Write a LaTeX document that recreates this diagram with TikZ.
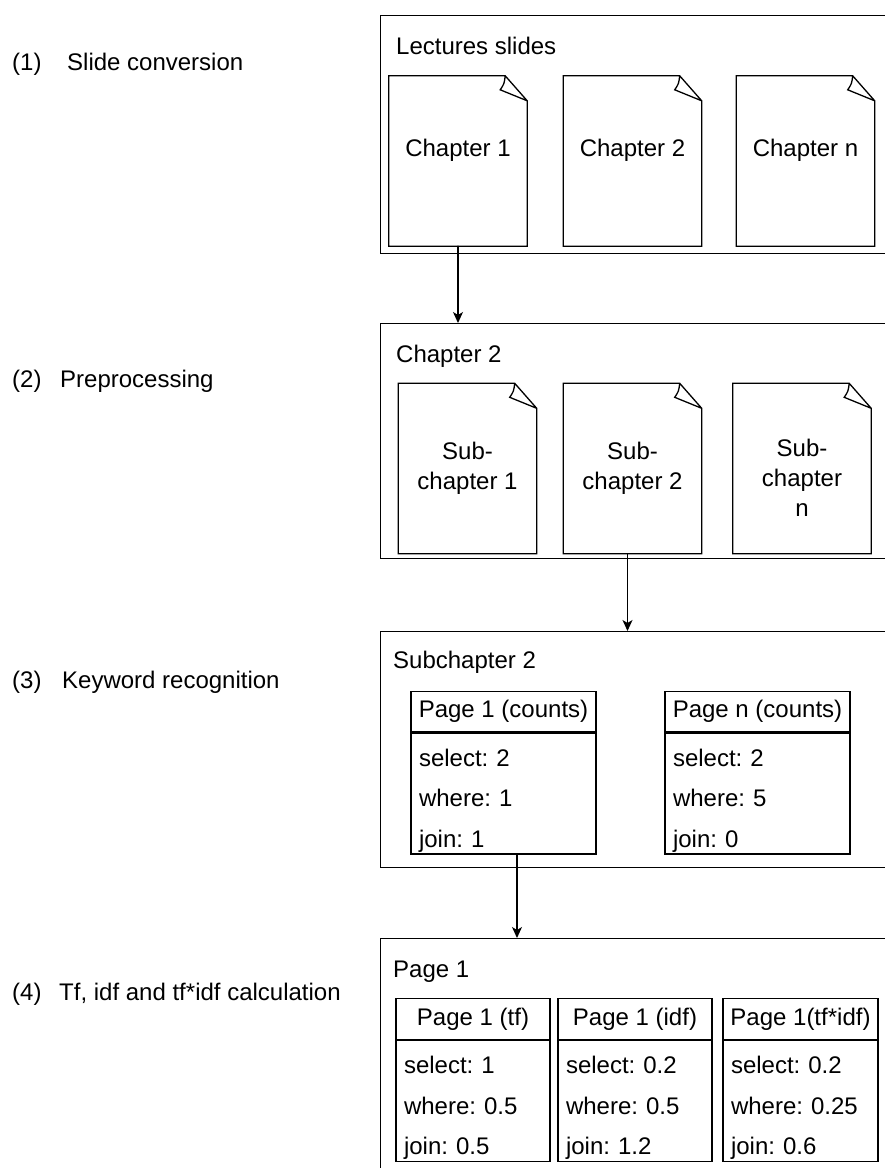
\documentclass[tikz,border=0pt]{standalone}
\usepackage{fontspec}
\setmainfont{Liberation Sans}
\usetikzlibrary{positioning,arrows.meta}
\frenchspacing

\begin{document}
\begin{tikzpicture}[x=1pt,y=-1pt,line cap=round,
  txt/.style={font=\fontsize{24}{30}\selectfont, inner sep=0pt},
  stepname/.style={txt, anchor=base west},
  frame/.style={draw, line width=1.3pt, anchor=north west, minimum width=520pt},
  doc/.style={txt, minimum width=138pt, minimum height=170pt, align=center,
    append after command={\pgfextra{
      \draw[line width=1.3pt] (\tikzlastnode.north west)
        -- ([xshift=-22pt]\tikzlastnode.north east)
        -- ([yshift=-25pt]\tikzlastnode.north east)
        -- (\tikzlastnode.south east) -- (\tikzlastnode.south west) -- cycle
        ([xshift=-22pt]\tikzlastnode.north east)
        .. controls ([xshift=-23pt,yshift=-8pt]\tikzlastnode.north east)
        .. ([xshift=-27pt,yshift=-14pt]\tikzlastnode.north east)
        -- ([yshift=-25pt]\tikzlastnode.north east);}}},
  head/.style={txt, draw, line width=1.2pt, minimum height=40.5pt},
  rows/.style={draw, line width=1.2pt, font=\fontsize{24}{40.5}\selectfont,
    inner xsep=8pt, inner ysep=0pt, minimum height=121pt,
    text height=33.5pt, text depth=87.5pt, align=left},
  arr/.style={line width=1.3pt, -{Stealth[length=11pt,width=10pt,inset=3pt]}}
]
\useasboundingbox (0,0) rectangle (885,1168);

% --- Passi ---
\node[stepname] (n1) at (12,70)   {(1)};
\node[stepname] (s1) at (67,70)   {Slide conversion};
\node[stepname] (n2) at (12,387)  {(2)};
\node[stepname] (s2) at (60,387)  {Preprocessing};
\node[stepname] (n3) at (12,688)  {(3)};
\node[stepname] (s3) at (62,688)  {Keyword recognition};
\node[stepname] (n4) at (12,1000) {(4)};
\node[stepname] (s4) at (59,1000) {Tf, idf and tf*idf calculation};

% --- Riquadri ---
\node[frame, minimum height=238pt] (lec)  at (380,15)  {};
\node[frame, minimum height=235pt] (chap) at (380,323) {};
\node[frame, minimum height=236pt] (subc) at (380,631) {};
\node[frame, minimum height=250pt] (page) at (380,938) {};
\node[stepname] (lect)  at (396,54)  {Lectures slides};
\node[stepname] (chapt) at (396,362) {Chapter 2};
\node[stepname] (subct) at (393,668) {Subchapter 2};
\node[stepname] (paget) at (393,977) {Page 1};

% --- Capitoli ---
\node[doc, text height=17pt, text depth=27pt] (ch1) at (458,161)   {Chapter 1};
\node[doc, text height=17pt, text depth=27pt] (ch2) at (632.5,161) {Chapter 2};
\node[doc, text height=17pt, text depth=27pt] (chn) at (805.5,161) {Chapter n};

% --- Sottocapitoli ---
\node[doc] (sub1) at (467.5,468.5) {Sub-\\chapter 1};
\node[doc] (sub2) at (632.5,468.5) {Sub-\\chapter 2};
\node[doc, text width=138pt, text height=73pt, text depth=97pt] (subn) at (802,468.5) {Sub-\\chapter\\n};

% --- Conteggi ---
\node[head, minimum width=185pt] (cnt1) at (503.5,711.5) {Page 1 (counts)};
\node[rows, below=0pt of cnt1, text width=169pt] (cnt1b) {select: 2\\where: 1\\join: 1};
\node[head, minimum width=185pt] (cntn) at (757.5,711.5) {Page n (counts)};
\node[rows, below=0pt of cntn, text width=169pt] (cntnb) {select: 2\\where: 5\\join: 0};

% --- Pesi ---
\node[head, minimum width=154pt] (tf) at (473,1019) {Page 1 (tf)};
\node[rows, below=0pt of tf, text width=138pt] (tfb) {select: 1\\where: 0.5\\join: 0.5};
\node[head, minimum width=154pt] (idf) at (635,1019) {Page 1 (idf)};
\node[rows, below=0pt of idf, text width=138pt] (idfb) {select: 0.2\\where: 0.5\\join: 1.2};
\node[head, minimum width=155pt] (tfidf) at (800.5,1019) {Page 1(tf*idf)};
\node[rows, below=0pt of tfidf, text width=139pt] (tfidfb) {select: 0.2\\where: 0.25\\join: 0.6};

% --- Frecce ---
\draw[arr] (ch1.south) -- (ch1.south |- chap.north);
\draw[arr] ([xshift=-5pt]sub2.south) -- ([xshift=-5pt]sub2.south |- subc.north);
\draw[arr] ([xshift=13.5pt]cnt1b.south) -- ([xshift=13.5pt]cnt1b.south |- page.north);

\end{tikzpicture}
\end{document}
